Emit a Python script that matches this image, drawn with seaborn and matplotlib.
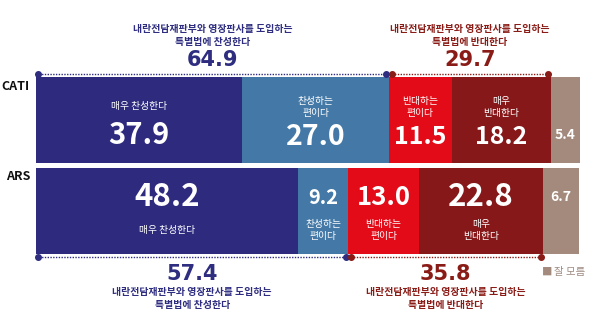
import numpy as np
import pandas as pd
import matplotlib
matplotlib.use('Agg')
import matplotlib.pyplot as plt
import seaborn as sns

sns.set_theme(style='white')
plt.rcParams['font.family'] = ['Noto Sans CJK KR', 'DejaVu Sans']

# ---------------- data ----------------
groups = ['CATI', 'ARS']
categories = ['매우 찬성한다', '찬성하는 편이다', '반대하는 편이다', '매우 반대한다', '잘 모름']
cati_values = [37.9, 27.0, 11.5, 18.2, 5.4]
ars_values = [48.2, 9.2, 13.0, 22.8, 6.7]
favor_totals = [64.9, 57.4]
oppose_totals = [29.7, 35.8]
seg_labels = ['매우 찬성한다', '찬성하는\n편이다', '반대하는\n편이다', '매우\n반대한다', '']
favor_text = ['내란전담재판부와 영장판사를 도입하는', '특별법에 찬성한다']
oppose_text = ['내란전담재판부와 영장판사를 도입하는', '특별법에 반대한다']
legend_text = '잘 모름'

colors = ['#2e2b7f', '#4479a7', '#e30b17', '#86181a', '#a38a7c']
navy = '#2e2d80'
maroon = '#8a1c17'

# ---------------- layout helpers ----------------
W, H = 600, 323
x0px, x1px = 36, 580
scale = (x1px - x0px) / 100.0
row_px = [120, 211]
spacing = 91


def X(px):
    return (px - x0px) / scale


def Y(py):
    return (py - row_px[0]) / spacing


fig = plt.figure(figsize=(6, 3.23), dpi=100)
ax = fig.add_axes([0, 0, 1, 1])

values = np.array([cati_values, ars_values])
cum = values.cumsum(axis=1)

for i in reversed(range(len(categories))):
    df = pd.DataFrame({'group': groups, 'value': cum[:, i]})
    sns.barplot(data=df, x='value', y='group', orient='h', color=colors[i],
                saturation=1, width=86 / 91, linewidth=0, ax=ax)

ax.set_xlim(-x0px / scale, (W - x0px) / scale)
ax.set_ylim(Y(H), Y(0))
ax.axis('off')

num_sizes = [[21, 20.5, 18, 18, 10], [22.5, 14.5, 18.5, 22.5, 10]]

for r in range(2):
    for i in range(len(categories)):
        xc = cum[r, i] - values[r, i] / 2
        v = f'{values[r, i]:.1f}'
        lab = seg_labels[i]
        if r == 0:
            if i == 0:
                ly, ny = 106, 135
            elif i < 4:
                ly, ny = 107, 137
            else:
                ly, ny = None, 135
        else:
            if i < 4:
                ly, ny = 230, 197.5
            else:
                ly, ny = None, 197
        ax.text(xc, Y(ny), v, ha='center', va='center', color='white',
                fontsize=num_sizes[r][i], fontweight='bold')
        if ly is not None and lab:
            ax.text(xc, Y(ly), lab, ha='center', va='center', color='white',
                    fontsize=7, linespacing=1.15)

# group labels
ax.text(X(29), Y(87), 'CATI', ha='right', va='center', fontsize=9,
        fontweight='bold', color='#111111')
ax.text(X(30), Y(177), 'ARS', ha='right', va='center', fontsize=9,
        fontweight='bold', color='#111111')

# dotted bracket lines + headers
line_y = [74, 257]
for r in range(2):
    f = favor_totals[r]
    o = oppose_totals[r]
    yy = Y(line_y[r])
    ax.plot([0, f], [yy, yy], color=navy, lw=1, ls=(0, (1, 1)))
    ax.plot([f, f + o], [yy, yy], color=maroon, lw=1, ls=(0, (1, 1)))
    ax.plot([0.3, f - 0.5], [yy, yy], ls='none', marker='o', ms=4, color=navy)
    ax.plot([f + 0.5, f + o - 0.4], [yy, yy], ls='none', marker='o', ms=4, color=maroon)

    if r == 0:
        t1, t2, ny = 29, 41.5, 59.5
    else:
        t1, t2, ny = 292.5, 305, 273.5
    for xc, lines, col, tot in [(f / 2, favor_text, navy, f),
                                (f + o / 2, oppose_text, maroon, o)]:
        ax.text(xc, Y(t1), lines[0], ha='center', va='center', color=col,
                fontsize=7.1, fontweight='bold')
        ax.text(xc, Y(t2), lines[1], ha='center', va='center', color=col,
                fontsize=7.1, fontweight='bold')
        ax.text(xc, Y(ny), f'{tot:.1f}', ha='center', va='center', color=col,
                fontsize=15, fontweight='bold', family='DejaVu Sans')

# legend
ax.text(X(542), Y(271.5), '■', ha='left', va='center',
        color='#a38a7c', fontsize=7.5)
ax.text(X(554), Y(272), legend_text, ha='left', va='center',
        color='#9c8a80', fontsize=7.5)

fig.savefig('out.png', dpi=100)
